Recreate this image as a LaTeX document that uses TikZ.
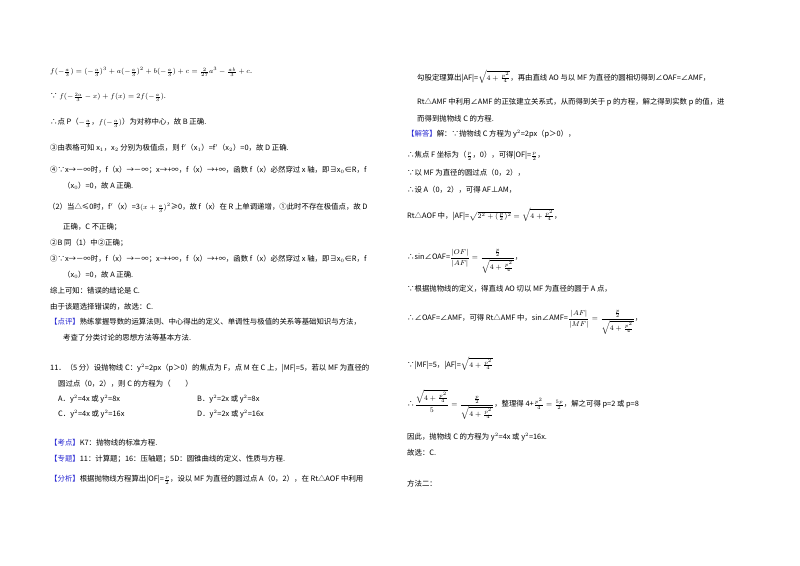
\documentclass[tikz,border=0pt]{standalone}
\usepackage{amsmath,amssymb}
\usepackage{fontspec}
\setmainfont{Noto Sans CJK SC}
\definecolor{kb}{RGB}{40,40,210}
\begin{document}
\begin{tikzpicture}[x=1pt,y=-1pt,
  t/.style={anchor=west,inner sep=0pt,font=\fontsize{7.4}{9}\selectfont},
  k/.style={text=kb}]
\useasboundingbox[fill=white] (0,0) rectangle (800,565);
% left column
\node[t] (l1) at (50,72) {$f(-\frac{a}{3})=(-\frac{a}{3})^3+a(-\frac{a}{3})^2+b(-\frac{a}{3})+c=\frac{2}{27}a^3-\frac{ab}{3}+c$.};
\node[t] (l2) at (50,97) {∵ $f(-\frac{2a}{3}-x)+f(x)=2f(-\frac{a}{3})$.};
\node[t] (l3) at (50,123) {∴点 P（$-\frac{a}{3}$，$f(-\frac{a}{3})$）为对称中心，故 B 正确.};
\node[t] (l4) at (50,148) {③由表格可知 x$_1$，x$_2$ 分别为极值点，则 f$'$（x$_1$）=f$'$（x$_2$）=0，故 D 正确.};
\node[t] (l5) at (50,170) {④∵x→－∞时，f（x）→－∞；x→+∞，f（x）→+∞，函数 f（x）必然穿过 x 轴，即∃x$_0$∈R，f};
\node[t] (l6) at (63,186) {（x$_0$）=0，故 A 正确.};
\node[t] (l7) at (48,208) {（2）当△≤0时，f$'$（x）=3$(x+\frac{a}{3})^2$≥0，故 f（x）在 R 上单调递增，①此时不存在极值点，故 D};
\node[t] (l8) at (63,227) {正确，C 不正确；};
\node[t] (l9) at (50,243) {②B 同（1）中②正确；};
\node[t] (l10) at (50,259) {③∵x→－∞时，f（x）→－∞；x→+∞，f（x）→+∞，函数 f（x）必然穿过 x 轴，即∃x$_0$∈R，f};
\node[t] (l11) at (63,275) {（x$_0$）=0，故 A 正确.};
\node[t] (l12) at (50,291) {综上可知：错误的结论是 C.};
\node[t] (l13) at (50,307) {由于该题选择错误的，故选：C.};
\node[t] (l14) at (50,322) {\textcolor{kb}{【点评】}熟练掌握导数的运算法则、中心得出的定义、单调性与极值的关系等基础知识与方法，};
\node[t] (l15) at (63,338) {考查了分类讨论的思想方法等基本方法.};
\node[t] (l16) at (50,368) {11．（5 分）设抛物线 C：y$^2$=2px（p＞0）的焦点为 F，点 M 在 C 上，|MF|=5，若以 MF 为直径的};
\node[t] (l17) at (58,384) {圆过点（0，2），则 C 的方程为（\quad\quad）};
\node[t] (l18) at (58,399) {A．y$^2$=4x 或 y$^2$=8x};
\node[t] (l19) at (197,399) {B．y$^2$=2x 或 y$^2$=8x};
\node[t] (l20) at (58,414) {C．y$^2$=4x 或 y$^2$=16x};
\node[t] (l21) at (197,414) {D．y$^2$=2x 或 y$^2$=16x};
\node[t] (l22) at (50,443) {\textcolor{kb}{【考点】}K7：抛物线的标准方程.};
\node[t] (l23) at (50,459) {\textcolor{kb}{【专题】}11：计算题；16：压轴题；5D：圆锥曲线的定义、性质与方程.};
\node[t] (l24) at (50,480) {\textcolor{kb}{【分析】}根据抛物线方程算出|OF|=$\frac{p}{2}$，设以 MF 为直径的圆过点 A（0，2），在 Rt△AOF 中利用};
% right column
\node[t] (r1) at (417,77) {勾股定理算出|AF|=$\sqrt{4+\frac{p^2}{4}}$，再由直线 AO 与以 MF 为直径的圆相切得到∠OAF=∠AMF，};
\node[t] (r2) at (417,102) {Rt△AMF 中利用∠AMF 的正弦建立关系式，从而得到关于 p 的方程，解之得到实数 p 的值，进};
\node[t] (r3) at (417,119) {而得到抛物线 C 的方程.};
\node[t] (r4) at (407,134) {\textcolor{kb}{【解答】}解：∵抛物线 C 方程为 y$^2$=2px（p＞0），};
\node[t] (r5) at (407,156) {∴焦点 F 坐标为（$\frac{p}{2}$，0），可得|OF|=$\frac{p}{2}$，};
\node[t] (r6) at (407,173) {∵以 MF 为直径的圆过点（0，2），};
\node[t] (r7) at (407,190) {∴设 A（0，2），可得 AF⊥AM，};
\node[t] (r8) at (407,215) {Rt△AOF 中，|AF|=$\sqrt{2^2+(\frac{p}{2})^2}=\sqrt{4+\frac{p^2}{4}}$，};
\node[t] (r9) at (407,261) {∴sin∠OAF=$\dfrac{|OF|}{|AF|}=\dfrac{\frac{p}{2}}{\sqrt{4+\frac{p^2}{4}}}$，};
\node[t] (r10) at (407,289) {∵根据抛物线的定义，得直线 AO 切以 MF 为直径的圆于 A 点，};
\node[t] (r11) at (407,322) {∴∠OAF=∠AMF，可得 Rt△AMF 中，sin∠AMF=$\dfrac{|AF|}{|MF|}=\dfrac{\frac{p}{2}}{\sqrt{4+\frac{p^2}{4}}}$，};
\node[t] (r12) at (407,364) {∵|MF|=5，|AF|=$\sqrt{4+\frac{p^2}{4}}$};
\node[t] (r13) at (407,405) {∴$\dfrac{\sqrt{4+\frac{p^2}{4}}}{5}=\dfrac{\frac{p}{2}}{\sqrt{4+\frac{p^2}{4}}}$，整理得 4+$\frac{p^2}{4}=\frac{5p}{2}$，解之可得 p=2 或 p=8};
\node[t] (r14) at (407,437) {因此，抛物线 C 的方程为 y$^2$=4x 或 y$^2$=16x.};
\node[t] (r15) at (407,453) {故选：C.};
\node[t] (r16) at (407,484) {方法二：};
\end{tikzpicture}
\end{document}
